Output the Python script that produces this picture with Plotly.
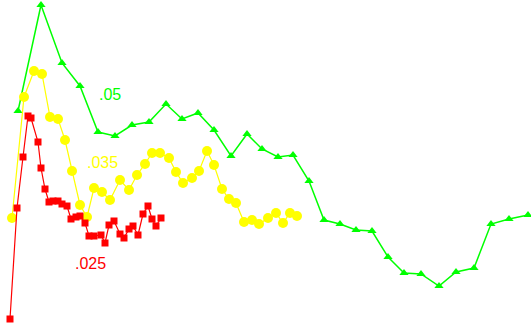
import plotly.graph_objects as go

# Series readings (x: horizontal position, y: level, larger = higher)
green_x = [18, 41, 62, 80, 98, 115, 132, 149, 166, 182, 198, 214, 231, 247, 262, 278,
           293, 309, 324, 340, 356, 372, 388, 404, 421, 439, 456, 474, 491, 509, 528]
green_y = [213, 319, 261, 238, 192, 188, 199, 202, 220, 205, 211, 194, 168, 190, 175, 167,
           169, 143, 104, 100, 94, 93, 67, 51, 50, 38, 52, 56, 100, 105, 109]

yellow_x = [12, 24, 34, 42, 50, 58, 65, 72, 80, 87, 94, 102, 110, 120, 129, 137, 145, 152,
            160, 169, 176, 183, 192, 199, 207, 214, 222, 229, 236, 244, 252, 259, 268, 276,
            283, 290, 297]
yellow_y = [106, 227, 253, 250, 207, 205, 184, 153, 119, 107, 136, 132, 124, 144, 134, 149,
            160, 171, 171, 166, 152, 141, 146, 153, 173, 159, 135, 125, 121, 102, 104, 100,
            106, 111, 101, 111, 108]

red_x = [10, 17, 23, 28, 31, 38, 41, 45, 49, 53, 58, 62, 67, 71, 76, 80, 85, 89, 94, 101,
         105, 109, 114, 120, 124, 129, 133, 138, 143, 148, 152, 156, 161]
red_y = [5, 116, 167, 208, 206, 182, 156, 135, 122, 123, 123, 120, 118, 105, 107, 108, 101,
         88, 88, 89, 81, 99, 103, 90, 86, 95, 98, 89, 110, 118, 105, 98, 106]

labels = [".05", ".035", ".025"]
label_x = [110, 102, 90]
label_y = [230, 162, 61]
colors = ["#00ff00", "#ffff00", "#ff0000"]

fig = go.Figure()
fig.add_trace(go.Scatter(x=green_x, y=green_y, mode="lines+markers",
                         line=dict(color=colors[0], width=1.5),
                         marker=dict(symbol="triangle-up", size=8, color=colors[0])))
fig.add_trace(go.Scatter(x=yellow_x, y=yellow_y, mode="lines+markers",
                         line=dict(color=colors[1], width=1.2),
                         marker=dict(symbol="circle", size=10, color=colors[1])))
fig.add_trace(go.Scatter(x=red_x, y=red_y, mode="lines+markers",
                         line=dict(color=colors[2], width=1.2),
                         marker=dict(symbol="square", size=7, color=colors[2])))

for t, lx, ly, c in zip(labels, label_x, label_y, colors):
    fig.add_annotation(x=lx, y=ly, text=t, showarrow=False,
                       font=dict(family="Liberation Sans, Arial", size=16, color=c))

fig.update_layout(
    width=531, height=324,
    margin=dict(l=0, r=0, t=0, b=0),
    paper_bgcolor="white", plot_bgcolor="white",
    showlegend=False,
    xaxis=dict(range=[0, 531], visible=False, fixedrange=True),
    yaxis=dict(range=[0, 324], visible=False, fixedrange=True),
)
fig.update_traces(cliponaxis=False)

fig.write_html("out.html", config={"displayModeBar": False})
